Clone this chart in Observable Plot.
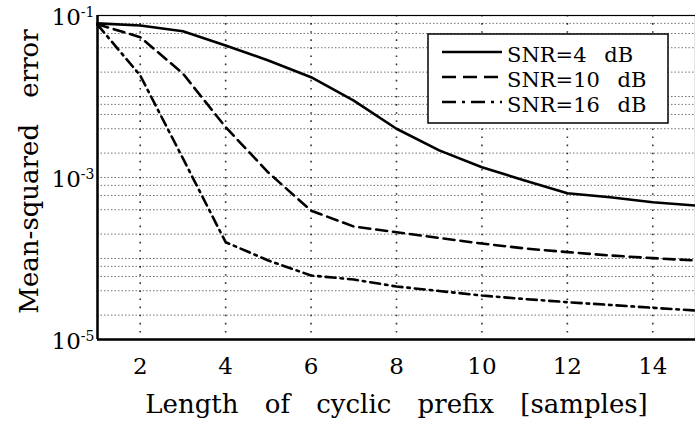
<!DOCTYPE html>
<html><head><meta charset="utf-8">
<script src="https://cdn.jsdelivr.net/npm/d3@7"></script>
<script src="https://cdn.jsdelivr.net/npm/@observablehq/plot@0.6"></script>
<style>
html,body{margin:0;padding:0;background:#fff;}
#chart{position:relative;width:695px;height:427px;}
</style></head>
<body><div id="chart"></div>
<script>
// ---- data ----
const prefixLength = [1,2,3,4,5,6,7,8,9,10,11,12,13,14,15];
const mseSNR4  = [0.080,0.0753,0.064,0.0426,0.0278,0.0173,0.0089,0.0040,0.00216,0.00134,0.00092,0.00064,0.00057,0.000495,0.000451];
const mseSNR10 = [0.078,0.054,0.0192,0.00418,0.00115,0.00039,0.000248,0.000211,0.000179,0.000153,0.000133,0.00012,0.000109,0.000101,0.0000945];
const mseSNR16 = [0.077,0.0182,0.00172,0.000159,0.0000944,0.0000617,0.000055,0.0000451,0.0000397,0.0000349,0.0000316,0.0000289,0.0000267,0.0000246,0.0000228];
const seriesNames = ["SNR=4 dB","SNR=10 dB","SNR=16 dB"];
const xTicks = [2,4,6,8,10,12,14];
const yTicks = [1e-1,1e-3,1e-5];
const xLabel = "Length of cyclic prefix [samples]";
const yLabel = "Mean-squared error";

// ---- styling ----
const dashes = [null, "11,6", "10,5,2.5,5"];
const legendDashes = [null, "14,7", "14,6,3,6"];
const xDomain = [1,15];
const yDomain = [1e-5,1e-1];
const FONT = "'DejaVu Serif', serif";

const seriesValues = [mseSNR4, mseSNR10, mseSNR16];
const table = seriesNames.flatMap((s,i)=>prefixLength.map((x,j)=>({series:s, x, y:seriesValues[i][j]})));

// grid: 1,2,4,6,8 x 10^k
const gridY = [];
for (let k=-5;k<=-1;k++) for (const m of [1,2,4,6,8]) { const v=m*Math.pow(10,k); if (v<=1e-1*1.0001) gridY.push(v); }

const lineMarks = seriesNames.map((s,i)=>Plot.line(table.filter(d=>d.series===s), {
  x:"x", y:"y", stroke:"#000", strokeWidth:2.6,
  strokeDasharray: dashes[i] || undefined, strokeLinejoin:"round"
}));

const plot = Plot.plot({
  width:695, height:427,
  marginLeft:97, marginRight:0, marginTop:15, marginBottom:88,
  x:{domain:xDomain, axis:null},
  y:{type:"log", domain:yDomain, axis:null},
  style:{fontFamily:FONT, color:"#000", background:"#fff", overflow:"visible"},
  marks:[
    Plot.ruleY(gridY, {stroke:"#000", strokeWidth:1, strokeDasharray:"1.5,2", strokeOpacity:0.55}),
    Plot.ruleX(xTicks, {stroke:"#000", strokeWidth:1.6, strokeDasharray:"1.6,6.5", strokeOpacity:0.8}),
    Plot.frame({stroke:"#000", strokeWidth:1.2}),
    Plot.ruleX([xDomain[0]], {stroke:"#000", strokeWidth:2.5}),
    Plot.ruleY([yDomain[0]], {stroke:"#000", strokeWidth:2.5}),
    ...lineMarks,
    // tick labels
    Plot.text(xTicks, {x:d=>d, frameAnchor:"bottom", dy:27, fontSize:23, text:d=>String(d),
      textAnchor:"middle", lineAnchor:"middle"}),
    Plot.text(yTicks, {y:d=>d, frameAnchor:"left", dx:-3, dy:2, fontSize:23, textAnchor:"end", lineAnchor:"middle",
      text:d=>"10^"+Math.round(Math.log10(d))}),
    Plot.text([xLabel], {frameAnchor:"bottom", dy:65, fontSize:26, textAnchor:"middle", lineAnchor:"middle"}),
    Plot.text([yLabel], {frameAnchor:"left", dx:-68, dy:-6, rotate:-90, fontSize:26, textAnchor:"middle", lineAnchor:"middle"})
  ]
});
document.getElementById("chart").appendChild(plot);

const svg = d3.select(plot);
svg.selectAll('g[aria-label="text"] text').each(function(){
  const t = d3.select(this);
  const s = t.text();
  if (s.includes("^")) {
    const parts = s.split("^");
    t.text(parts[0]);
    t.append("tspan").attr("dy","-0.55em").attr("font-size","14px").text(parts[1]);
  } else if (s.includes(" ")) {
    t.style("word-spacing","18px");
  }
});

// legend
const lg = svg.append("g").attr("font-family",FONT).attr("text-anchor","start");
lg.append("rect").attr("x",428).attr("y",34).attr("width",240).attr("height",89)
  .attr("fill","#fff").attr("stroke","#000").attr("stroke-width",1.5);
seriesNames.forEach((name,i)=>{
  const yy = 52 + i*25;
  lg.append("line").attr("x1",442).attr("x2",502).attr("y1",yy).attr("y2",yy)
    .attr("stroke","#000").attr("stroke-width",2.6)
    .attr("stroke-dasharray", legendDashes[i]);
  lg.append("text").attr("x",507).attr("y",yy+2).attr("dy","0.36em").attr("text-anchor","start")
    .style("font-size","21px").style("word-spacing","11px").text(name);
});
</script>
</body></html>
